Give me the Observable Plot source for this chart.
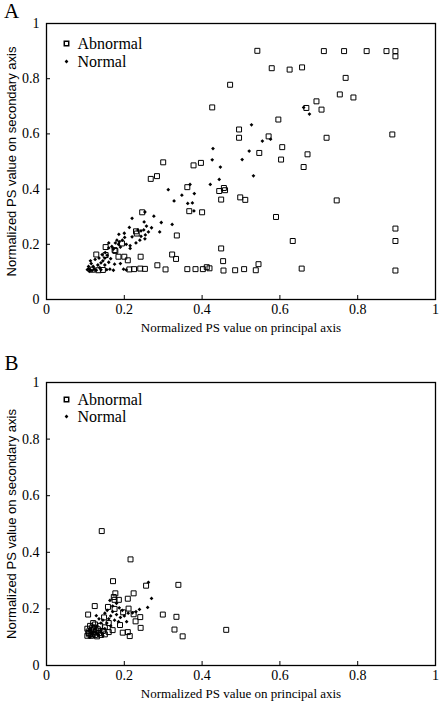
<!DOCTYPE html>
<html>
<head>
<meta charset="utf-8">
<script src="https://cdn.jsdelivr.net/npm/d3@7"></script>
<script src="https://cdn.jsdelivr.net/npm/@observablehq/plot@0.6"></script>
<style>
  html, body { margin: 0; padding: 0; background: #fff; }
  body { width: 440px; height: 701px; overflow: hidden; }
  #chart svg { display: block; }
</style>
</head>
<body>
<div id="chart"></div>
<script>
// ---- labels ----
const panelLetters = ["A", "B"];
const seriesNames = ["Abnormal", "Normal"];
const xTitle = "Normalized PS value on principal axis";
const yTitle = "Normalized PS value on secondary axis";
const axisTicks = [0, 0.2, 0.4, 0.6, 0.8, 1];
const tickLabels = ["0", "0.2", "0.4", "0.6", "0.8", "1"];

// ---- panel A : Abnormal ----
const aAbnormalX = [0.542,0.713,0.765,0.823,0.874,0.897,0.897,0.579,0.625,0.657,0.769,0.472,0.754,0.789,0.694,0.426,0.668,0.707,0.596,0.495,0.495,0.571,0.720,0.889,0.606,0.547,0.671,0.603,0.661,0.300,0.378,0.397,0.268,0.284,0.362,0.456,0.444,0.459,0.449,0.498,0.511,0.746,0.367,0.400,0.246,0.590,0.897,0.335,0.633,0.897,0.449,0.454,0.545,0.323,0.333,0.242,0.209,0.200,0.185,0.128,0.152,0.177,0.194,0.230,0.232,0.175,0.152,0.118,0.133,0.145,0.213,0.241,0.253,0.285,0.306,0.362,0.383,0.402,0.412,0.419,0.455,0.485,0.508,0.538,0.656,0.897,0.225];
const aAbnormalY = [0.901,0.900,0.900,0.900,0.900,0.900,0.881,0.838,0.833,0.841,0.803,0.778,0.743,0.732,0.718,0.696,0.694,0.688,0.652,0.616,0.586,0.591,0.586,0.598,0.552,0.531,0.526,0.507,0.480,0.497,0.486,0.495,0.437,0.447,0.407,0.404,0.393,0.396,0.362,0.370,0.361,0.359,0.320,0.316,0.316,0.299,0.257,0.232,0.212,0.212,0.185,0.139,0.128,0.163,0.147,0.155,0.142,0.155,0.155,0.163,0.161,0.176,0.203,0.247,0.239,0.179,0.190,0.108,0.106,0.107,0.109,0.112,0.111,0.124,0.109,0.110,0.110,0.110,0.117,0.113,0.105,0.106,0.110,0.106,0.112,0.105,0.110];

// ---- panel A : Normal ----
const aNormalX = [0.661,0.676,0.527,0.555,0.576,0.521,0.503,0.428,0.426,0.447,0.532,0.444,0.421,0.369,0.313,0.348,0.380,0.328,0.363,0.375,0.379,0.253,0.220,0.276,0.295,0.323,0.251,0.257,0.213,0.235,0.243,0.250,0.291,0.186,0.254,0.243,0.253,0.240,0.220,0.201,0.181,0.187,0.177,0.230,0.205,0.215,0.190,0.168,0.172,0.160,0.215,0.151,0.143,0.156,0.150,0.165,0.135,0.145,0.125,0.140,0.160,0.175,0.190,0.115,0.120,0.132,0.150,0.108,0.112,0.117,0.122,0.128,0.155,0.163,0.172,0.198,0.205,0.137,0.140,0.108,0.113,0.270,0.262,0.200,0.195,0.185,0.160,0.105,0.110];
const aNormalY = [0.696,0.672,0.633,0.574,0.581,0.538,0.507,0.547,0.506,0.480,0.448,0.435,0.417,0.417,0.398,0.378,0.384,0.357,0.348,0.350,0.321,0.317,0.294,0.302,0.279,0.272,0.281,0.266,0.261,0.252,0.249,0.252,0.245,0.236,0.234,0.229,0.220,0.215,0.227,0.225,0.215,0.209,0.205,0.205,0.200,0.195,0.190,0.192,0.183,0.187,0.185,0.170,0.163,0.160,0.150,0.148,0.150,0.140,0.145,0.133,0.135,0.128,0.130,0.130,0.120,0.125,0.125,0.112,0.108,0.105,0.110,0.106,0.108,0.110,0.106,0.110,0.107,0.115,0.108,0.120,0.140,0.260,0.245,0.240,0.215,0.200,0.205,0.108,0.102];

// ---- panel B : Abnormal ----
const bAbnormalX = [0.142,0.216,0.171,0.256,0.339,0.177,0.224,0.173,0.175,0.209,0.186,0.124,0.158,0.175,0.211,0.197,0.107,0.299,0.334,0.241,0.224,0.148,0.229,0.189,0.242,0.329,0.350,0.462,0.196,0.209,0.214,0.160,0.150,0.170,0.105,0.110,0.115,0.120,0.125,0.130,0.108,0.115,0.122,0.128,0.135,0.140,0.112,0.118,0.125,0.132,0.145,0.138,0.105,0.150,0.160,0.120,0.108];
const bAbnormalY = [0.475,0.375,0.298,0.282,0.285,0.255,0.255,0.242,0.232,0.236,0.232,0.210,0.207,0.200,0.201,0.188,0.180,0.180,0.172,0.171,0.181,0.170,0.156,0.143,0.133,0.127,0.103,0.126,0.116,0.118,0.104,0.150,0.135,0.125,0.105,0.110,0.105,0.112,0.108,0.103,0.120,0.125,0.130,0.120,0.115,0.108,0.140,0.135,0.145,0.128,0.122,0.140,0.130,0.110,0.118,0.150,0.115];

// ---- panel B : Normal ----
const bNormalX = [0.262,0.270,0.260,0.239,0.187,0.128,0.206,0.221,0.156,0.170,0.180,0.165,0.150,0.160,0.175,0.145,0.190,0.200,0.155,0.140,0.135,0.130,0.165,0.150,0.125,0.120,0.140,0.185,0.110,0.118,0.132,0.145,0.112,0.170,0.180,0.195,0.210,0.230,0.163];
const bNormalY = [0.294,0.237,0.205,0.198,0.204,0.176,0.155,0.186,0.195,0.190,0.180,0.175,0.185,0.165,0.160,0.160,0.170,0.175,0.150,0.150,0.165,0.140,0.140,0.130,0.130,0.120,0.125,0.155,0.125,0.110,0.112,0.105,0.100,0.210,0.220,0.195,0.185,0.190,0.230];

const toRows = (xs, ys) => xs.map((x, i) => ({x, y: ys[i]}));
const fmt = d => tickLabels[axisTicks.indexOf(d)];

function panel({letter, abX, abY, noX, noY, height, marginTop, marginBottom, letterDy, legendDy, legendGap}) {
  const abnormal = toRows(abX, abY);
  const normal = toRows(noX, noY);
  return Plot.plot({
    width: 440,
    height,
    marginTop,
    marginBottom,
    marginLeft: 46,
    marginRight: 5,
    style: {fontFamily: "'Liberation Serif', serif", fontSize: "14px", color: "#000", background: "#fff", overflow: "visible"},
    x: {domain: [0, 1]},
    y: {domain: [0, 1]},
    marks: [
      Plot.frame({stroke: "#000", strokeWidth: 1.3}),
      Plot.axisX({ticks: axisTicks, tickFormat: fmt, tickSize: -4, tickPadding: 9, label: null, fontSize: 14}),
      Plot.axisY({ticks: axisTicks, tickFormat: fmt, tickSize: -4, tickPadding: 11, label: null, fontSize: 14}),
      Plot.text([xTitle], {text: d => d, frameAnchor: "bottom", dy: 28, lineAnchor: "middle", textAnchor: "middle", fontSize: 13}),
      Plot.text([yTitle], {text: d => d, frameAnchor: "left", rotate: -90, dx: -35, textAnchor: "middle", lineAnchor: "middle", fontSize: 13, fontFamily: "'Liberation Sans', sans-serif"}),
      Plot.text([letter], {text: d => d, frameAnchor: "top-left", dx: -35, dy: letterDy, textAnchor: "middle", lineAnchor: "middle", fontSize: 21}),
      Plot.dot(abnormal, {x: "x", y: "y", symbol: "square", r: 2.8, stroke: "#000", strokeWidth: 1, fill: "none"}),
      Plot.dot(normal, {x: "x", y: "y", symbol: "diamond2", r: 1.7, fill: "#000", stroke: "none"}),
      // legend
      Plot.dot([seriesNames[0]], {frameAnchor: "top-left", dx: 20, dy: legendDy, symbol: "square", r: 2.5, stroke: "#000", fill: "none"}),
      Plot.text([seriesNames[0]], {text: d => d, frameAnchor: "top-left", dx: 31, dy: legendDy, textAnchor: "start", lineAnchor: "middle", fontSize: 16}),
      Plot.dot([seriesNames[1]], {frameAnchor: "top-left", dx: 20, dy: legendDy + legendGap, symbol: "diamond2", r: 1.7, fill: "#000"}),
      Plot.text([seriesNames[1]], {text: d => d, frameAnchor: "top-left", dx: 31, dy: legendDy + legendGap, textAnchor: "start", lineAnchor: "middle", fontSize: 16})
    ]
  });
}

const chart = document.getElementById("chart");
chart.append(panel({
  letter: panelLetters[0], abX: aAbnormalX, abY: aAbnormalY, noX: aNormalX, noY: aNormalY,
  height: 340, marginTop: 23, marginBottom: 41, letterDy: -12, legendDy: 20, legendGap: 18
}));
chart.append(panel({
  letter: panelLetters[1], abX: bAbnormalX, abY: bAbnormalY, noX: bNormalX, noY: bNormalY,
  height: 361, marginTop: 42, marginBottom: 36, letterDy: -19, legendDy: 17, legendGap: 17
}));
</script>
</body>
</html>
